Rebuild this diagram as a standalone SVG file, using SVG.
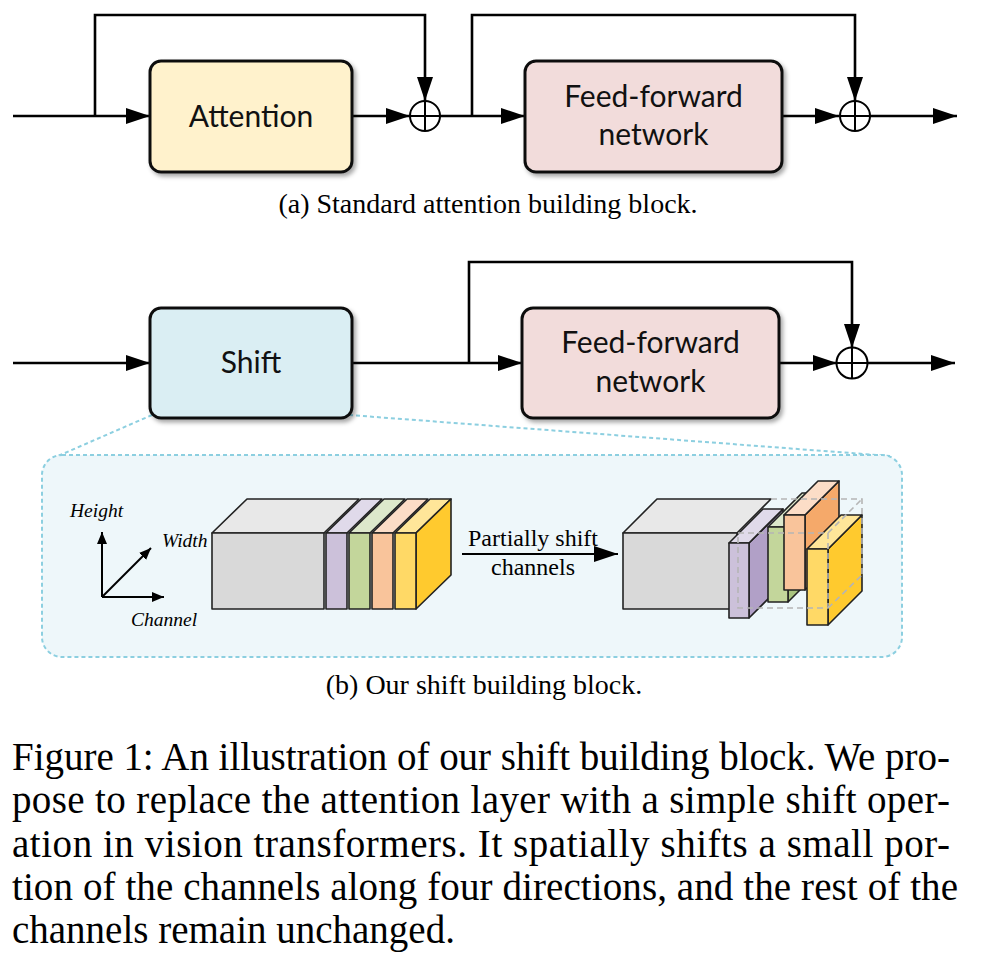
<svg xmlns="http://www.w3.org/2000/svg" width="981" height="957" viewBox="0 0 981 957">
<style>
.box{stroke:#111;stroke-width:3}
.lbl{font-family:Lato,"Open Sans",sans-serif;font-size:30px;fill:#111;text-anchor:middle}
.conn{fill:none;stroke:#000;stroke-width:2.6}
.plus{fill:#fff;stroke:#000;stroke-width:2}
.cap{font-family:"Liberation Serif","Times New Roman",serif;fill:#000}
.ax{font-family:"Liberation Serif","Times New Roman",serif;font-style:italic;font-size:19.5px;fill:#000}
.f{stroke:#222;stroke-width:1.6;stroke-linejoin:round}
.dash{fill:none;stroke:#b5b5b5;stroke-width:1.6;stroke-dasharray:6 4}
</style>
<defs>
<marker id="ah" markerUnits="userSpaceOnUse" markerWidth="24" markerHeight="16" refX="24" refY="8" orient="auto"><path d="M0,0 L24,8 L0,16 z" fill="#000"/></marker>
<marker id="sah" markerUnits="userSpaceOnUse" markerWidth="12" markerHeight="10" refX="12" refY="5" orient="auto"><path d="M0,0 L12,5 L0,10 z" fill="#000"/></marker>
<filter id="sh" x="-10%" y="-10%" width="130%" height="130%"><feDropShadow dx="2.5" dy="3" stdDeviation="2" flood-color="#000" flood-opacity="0.35"/></filter>
</defs>

<!-- connectors -->
<g id="connectors">
<path class="conn" d="M13,116 H150" marker-end="url(#ah)"/>
<path class="conn" d="M95,116 V15 H425 V101" marker-end="url(#ah)"/>
<path class="conn" d="M352,116 H410" marker-end="url(#ah)"/>
<path class="conn" d="M440,116 H525" marker-end="url(#ah)"/>
<path class="conn" d="M472,116 V15 H855 V101" marker-end="url(#ah)"/>
<path class="conn" d="M782,116 H839" marker-end="url(#ah)"/>
<path class="conn" d="M870,116 H957" marker-end="url(#ah)"/>

<path class="conn" d="M13,363 H150" marker-end="url(#ah)"/>
<path class="conn" d="M352,363 H522" marker-end="url(#ah)"/>
<path class="conn" d="M469,363 V262 H852 V348" marker-end="url(#ah)"/>
<path class="conn" d="M779,363 H837" marker-end="url(#ah)"/>
<path class="conn" d="M868,363 H955" marker-end="url(#ah)"/>

<path d="M152,415 L58,456" fill="none" stroke="#8ccfe0" stroke-width="2" stroke-dasharray="4 3"/>
<path d="M349,415 L890,456" fill="none" stroke="#8ccfe0" stroke-width="2" stroke-dasharray="4 3"/>
</g>

<!-- nodes (a) -->
<g id="attention">
<rect class="box" x="150" y="61" width="202" height="111" rx="11" fill="#fff2cc" filter="url(#sh)"/>
<text class="lbl" x="251" y="127">Attention</text>
</g>
<g id="plus1">
<circle class="plus" cx="425" cy="116" r="15"/>
<path d="M410,116 H440 M425,101 V131" stroke="#000" stroke-width="2"/>
</g>
<g id="ffn1">
<rect class="box" x="525" y="61" width="257" height="111" rx="11" fill="#f2dcdb" filter="url(#sh)"/>
<text class="lbl" x="653.5" y="107">Feed-forward</text>
<text class="lbl" x="653.5" y="145">network</text>
</g>
<g id="plus2">
<circle class="plus" cx="855" cy="116" r="15"/>
<path d="M840,116 H870 M855,101 V131" stroke="#000" stroke-width="2"/>
</g>
<text class="cap" x="488" y="213" font-size="28" text-anchor="middle">(a) Standard attention building block.</text>

<!-- nodes (b) -->
<g id="shift">
<rect class="box" x="150" y="308" width="202" height="110" rx="11" fill="#daeef3" filter="url(#sh)"/>
<text class="lbl" x="251" y="373">Shift</text>
</g>
<g id="ffn2">
<rect class="box" x="522" y="308" width="257" height="110" rx="11" fill="#f2dcdb" filter="url(#sh)"/>
<text class="lbl" x="650.5" y="353">Feed-forward</text>
<text class="lbl" x="650.5" y="392">network</text>
</g>
<g id="plus3">
<circle class="plus" cx="852" cy="363" r="15.5"/>
<path d="M836.5,363 H867.5 M852,347.5 V378.5" stroke="#000" stroke-width="2"/>
</g>

<!-- detail panel -->
<g id="panel">
<rect x="42" y="455" width="860" height="202" rx="20" fill="#eef7fa" stroke="#8ccfe0" stroke-width="2" stroke-dasharray="4 3"/>

<!-- axes -->
<g id="axes">
<path d="M102,597 V532" stroke="#000" stroke-width="2" fill="none" marker-end="url(#sah)"/>
<path d="M102,597 H164" stroke="#000" stroke-width="2" fill="none" marker-end="url(#sah)"/>
<path d="M102,597 L151,548" stroke="#000" stroke-width="2" fill="none" marker-end="url(#sah)"/>
<text class="ax" x="70" y="517">Height</text>
<text class="ax" x="162" y="547">Width</text>
<text class="ax" x="131" y="626">Channel</text>
</g>

<!-- block 1 -->
<g id="block1">
<polygon class="f" points="212,533 324,533 359,499 247,499" fill="#e8e8e8"/>
<rect class="f" x="212" y="533" width="112" height="76" fill="#d9d9d9"/>
<polygon class="f" points="326,533 347,533 382,499 361,499" fill="#e0daea"/>
<rect class="f" x="326" y="533" width="21" height="76" fill="#ccc1da"/>
<polygon class="f" points="349,533 370,533 405,499 384,499" fill="#dde8cb"/>
<rect class="f" x="349" y="533" width="21" height="76" fill="#c3d69b"/>
<polygon class="f" points="372,533 393,533 428,499 407,499" fill="#fcddc7"/>
<rect class="f" x="372" y="533" width="21" height="76" fill="#f9c49b"/>
<polygon class="f" points="395,533 416,533 451,499 430,499" fill="#ffe699"/>
<polygon class="f" points="416,533 451,499 451,575 416,609" fill="#ffca2e"/>
<rect class="f" x="395" y="533" width="21" height="76" fill="#ffd966"/>
</g>

<!-- transition arrow -->
<g id="shift-arrow">
<path d="M462,554 H618" stroke="#000" stroke-width="2" fill="none" marker-end="url(#ah)"/>
<text class="cap" x="533" y="546" font-size="24" text-anchor="middle">Partially shift</text>
<text class="cap" x="533" y="575" font-size="24" text-anchor="middle">channels</text>
</g>

<!-- block 2 -->
<g id="block2">
<polygon class="f" points="623,533 737,533 771,499 657,499" fill="#e8e8e8"/>
<rect class="f" x="623" y="533" width="114" height="76" fill="#d9d9d9"/>
<!-- purple -->
<polygon class="f" points="749,543 783,509 783,584 749,618" fill="#b1a0c7"/>
<polygon class="f" points="729,543 749,543 783,509 763,509" fill="#e0daea"/>
<rect class="f" x="729" y="543" width="20" height="75" fill="#ccc1da"/>
<!-- green -->
<polygon class="f" points="788,527 822,493 822,568 788,602" fill="#a9c47f"/>
<polygon class="f" points="768,527 788,527 822,493 802,493" fill="#dde8cb"/>
<rect class="f" x="768" y="527" width="20" height="75" fill="#c3d69b"/>
<!-- orange -->
<polygon class="f" points="805,515 839,481 839,556 805,590" fill="#f5a96a"/>
<polygon class="f" points="784,515 805,515 839,481 818,481" fill="#fcddc7"/>
<rect class="f" x="784" y="515" width="21" height="75" fill="#f9c49b"/>
<!-- yellow -->
<polygon class="f" points="828,549 862,515 862,591 828,625" fill="#ffca2e"/>
<polygon class="f" points="807,549 828,549 862,515 841,515" fill="#ffe699"/>
<rect class="f" x="807" y="549" width="21" height="76" fill="#ffd966"/>
<!-- original position outline -->
<path class="dash" d="M738,533 H828 V608 H738 Z M771,499 H862 V575 M828,533 L862,499 M828,608 L862,575"/>
</g>
</g>
<text class="cap" x="484" y="694" font-size="28" text-anchor="middle">(b) Our shift building block.</text>

<!-- figure caption -->
<g id="caption" class="cap" font-size="39">
<text x="12" y="770" textLength="938" lengthAdjust="spacing">Figure 1: An illustration of our shift building block. We pro-</text>
<text x="12" y="813" textLength="938" lengthAdjust="spacing">pose to replace the attention layer with a simple shift oper-</text>
<text x="12" y="857" textLength="938" lengthAdjust="spacing">ation in vision transformers. It spatially shifts a small por-</text>
<text x="12" y="900" textLength="946" lengthAdjust="spacing">tion of the channels along four directions, and the rest of the</text>
<text x="12" y="943">channels remain unchanged.</text>
</g>
</svg>
